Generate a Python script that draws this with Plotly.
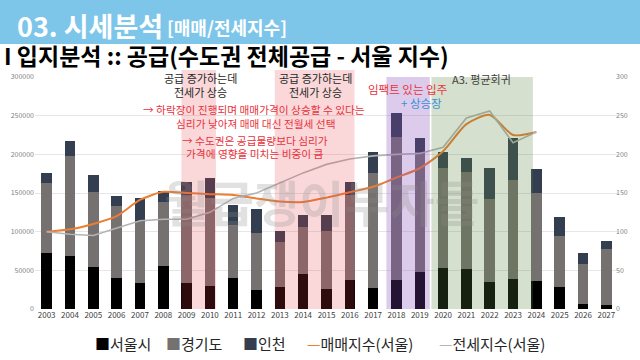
import plotly.graph_objects as go

years = list(range(2003, 2028))
seoul = [73000, 69000, 54000, 40500, 34000, 55000, 33500, 30000, 40500, 24500, 28700, 45000, 26200,
         38000, 27500, 37500, 48200, 53300, 51200, 34300, 38700, 36500, 28000, 6500, 5300]
gyeonggi = [90000, 129000, 97000, 92500, 79000, 83000, 113500, 113000, 68500, 73500, 57300, 61600, 75200,
            109000, 148200, 184500, 154300, 128700, 126300, 108000, 128300, 114100, 66500, 51500, 72400]
incheon = [13000, 19000, 22000, 13000, 30000, 14000, 17000, 26000, 25000, 31000, 15500, 14700, 20600,
           17500, 26800, 32000, 18500, 21500, 17500, 40200, 54000, 29900, 25100, 14500, 10800]

idx_years = list(range(2003, 2025))
sale_idx = [100, 103, 110, 120, 141, 151.5, 150, 148.5, 147.5, 143, 139, 138.5, 144,
            151, 158, 170, 182, 204, 239, 251, 225, 229]
jeonse_idx = [100, 96.6, 95, 105, 114, 116, 116, 125, 143, 150, 163, 176, 187,
              194, 198, 200, 201, 209, 247, 256, 215, 229]

series_names = ["서울시", "경기도", "인천", "매매지수(서울)", "전세지수(서울)"]
series_colors = ["#000000", "#767171", "#333F50", "#ED7D31", "#B4B4B4"]

W, H = 640, 360
L, R, T, B = 35, 22, 77, 51


def px(x):
    return (x - L) / (W - L - R)


def py(y):
    return (H - B - y) / (H - T - B)


FONT = "Noto Sans CJK KR"

fig = go.Figure()
for vals, name, col in zip([seoul, gyeonggi, incheon], series_names[:3], series_colors[:3]):
    fig.add_bar(x=years, y=vals, name=name, marker=dict(color=col, line=dict(width=0)), width=0.45)
fig.add_scatter(x=idx_years, y=sale_idx, name=series_names[3], mode="lines", yaxis="y2",
                line=dict(color=series_colors[3], width=2, shape="spline", smoothing=0.7))
fig.add_scatter(x=idx_years, y=jeonse_idx, name=series_names[4], mode="lines", yaxis="y2",
                line=dict(color=series_colors[4], width=1.6))

shapes = [
    dict(type="rect", xref="paper", yref="paper", x0=px(0), x1=px(640), y0=py(44), y1=py(0),
         fillcolor="#7DC6EA", line=dict(width=0), layer="below"),
    dict(type="rect", xref="x", yref="paper", x0=2008.78, x1=2010.26, y0=0, y1=py(70),
         fillcolor="rgba(230,60,70,0.2)", line=dict(width=0), layer="above"),
    dict(type="rect", xref="x", yref="paper", x0=2012.78, x1=2016.2, y0=0, y1=py(70),
         fillcolor="rgba(230,60,70,0.2)", line=dict(width=0), layer="above"),
    dict(type="rect", xref="x", yref="paper", x0=2017.57, x1=2019.43, y0=0, y1=1,
         fillcolor="rgba(130,70,180,0.28)", line=dict(width=0), layer="above"),
    dict(type="rect", xref="x", yref="paper", x0=2019.5, x1=2023.85, y0=0, y1=1,
         fillcolor="rgba(90,130,60,0.25)", line=dict(width=0), layer="above"),
]


def ann(text, x, y, size, color, xanchor="center", bold=False):
    t = f"<b>{text}</b>" if bold else text
    return dict(text=t, x=px(x), y=py(y), xref="paper", yref="paper", xanchor=xanchor, yanchor="middle",
                showarrow=False, font=dict(size=size, color=color, family=FONT), align="center",
                borderpad=0)


RED = "#E8323C"
annotations = [
    ann("월급쟁이부자들", 322, 200, 49, "rgba(140,140,140,0.26)", bold=True),
    ann("03. 시세분석", 16, 25, 27, "white", xanchor="left", bold=True),
    ann("[매매/전세지수]", 166, 27, 18, "white", xanchor="left", bold=True),
    ann("I 입지분석 :: 공급(수도권 전체공급 - 서울 지수)", 3, 55, 23, "#000000", xanchor="left", bold=True),
    ann("공급 증가하는데", 200, 77.5, 11, "#262626"),
    ann("전세가 상승", 200, 92, 11, "#262626"),
    ann("공급 증가하는데", 315, 77.5, 11, "#262626"),
    ann("전세가 상승", 315, 92, 11, "#262626"),
    ann("→ 하락장이 진행되며 매매가격이 상승할 수 있다는", 254, 109.5, 10.7, RED),
    ann("심리가 낮아져 매매 대신 전월세 선택", 255, 123, 10.7, RED),
    ann("→ 수도권은 공급물량보다 심리가", 255, 140, 10.7, RED),
    ann("가격에 영향을 미치는 비중이 큼", 255, 153, 10.7, RED),
    ann("임팩트 있는 입주", 407, 89, 11.5, RED),
    ann("+ 상승장", 421, 102.5, 11.5, "#3A8FD9"),
    ann("A3. 평균회귀", 481, 79, 11, "#404040"),
]

# legend drawn as text items
legend_centers = [123, 194, 264, 360, 492]
for name, col, cx, i in zip(series_names, series_colors, legend_centers, range(5)):
    sym = "■" if i < 3 else "—"
    annotations.append(dict(
        text=f"<span style='color:{col}'>{sym}</span>{name}", x=px(cx), y=py(343),
        xref="paper", yref="paper", xanchor="center", yanchor="middle", showarrow=False,
        font=dict(size=15, color="#262626", family=FONT), borderpad=0))

fig.update_layout(
    width=W, height=H,
    margin=dict(l=L, r=R, t=T, b=B, pad=0, autoexpand=False),
    barmode="stack",
    plot_bgcolor="white", paper_bgcolor="white",
    font=dict(family=FONT),
    showlegend=False,
    xaxis=dict(range=[2002.5, 2027.5], tickmode="array", tickvals=years, ticktext=[str(y) for y in years],
               tickfont=dict(size=8, color="#404040"), showgrid=False, zeroline=False, ticks="",
               showline=False),
    yaxis=dict(range=[0, 300000], dtick=50000, tickformat="d", tickfont=dict(size=7, color="#7F7F7F"),
               gridcolor="#E6E6E6", gridwidth=1, zeroline=False, showline=False, ticks=""),
    yaxis2=dict(range=[0, 300], dtick=50, overlaying="y", side="right", tickfont=dict(size=7, color="#7F7F7F"),
                showgrid=False, zeroline=False, showline=False, ticks="", ticklabelstandoff=-3),
    shapes=shapes,
    annotations=annotations,
)

fig.write_html("out.html", config={"displayModeBar": False, "staticPlot": True},
               post_script="document.body.style.margin='0';document.body.style.padding='0';")
